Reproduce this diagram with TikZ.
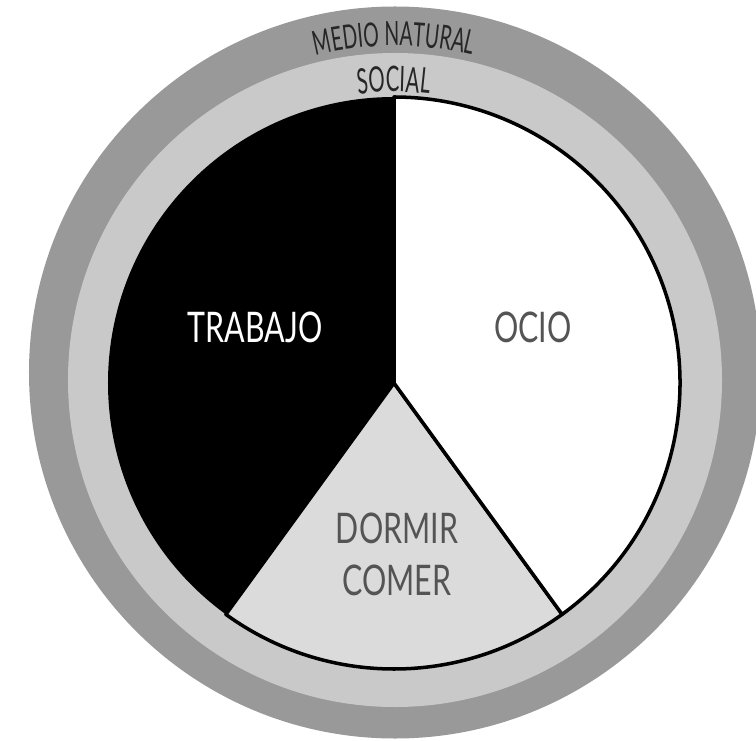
\documentclass[tikz,border=0pt]{standalone}
\usepackage{fontspec}
\usetikzlibrary{decorations.text}
\newfontfamily\labelfont[FakeStretch=0.72]{Lato}
\newfontfamily\ringfont[FakeStretch=0.58]{Lato}
\definecolor{ringdark}{gray}{0.60}
\definecolor{ringlight}{gray}{0.79}
\definecolor{sleepgray}{gray}{0.86}
\definecolor{labelgray}{gray}{0.33}
\tikzset{
  sector/.style={line width=2pt, draw=black, line join=round},
  biglabel/.style={font=\labelfont\fontsize{24}{26}\selectfont, inner sep=0pt},
  ringlabel/.style={decorate, decoration={text along path, text align=center,
    text color=black!85}}
}

\begin{document}
\begin{tikzpicture}[x=0.02cm, y=0.02cm]
  \useasboundingbox (-394,-357) rectangle (362,383);

  % rings
  \fill[ringdark] (1,10.5) circle[radius=366];
  \fill[ringlight] (1,3) circle[radius=327];

  % sectors
  \fill[black] (0,0) -- (90:286) arc[start angle=90, end angle=234, radius=286] -- cycle;
  \filldraw[sector, fill=sleepgray] (0,0) -- (234:286) arc[start angle=234, end angle=306, radius=286] -- cycle;
  \filldraw[sector, fill=white] (0,0) -- (306:286) arc[start angle=306, end angle=450, radius=286] -- cycle;

  % ring texts
  \path[ringlabel, decoration={text={|\ringfont\fontsize{19}{20}\selectfont|MEDIO NATURAL}}]
    (150:337) arc[start angle=150, end angle=30, radius=337];
  \path[ringlabel, decoration={text={|\ringfont\fontsize{20}{22}\selectfont|SOCIAL}}]
    (150:291) arc[start angle=150, end angle=30, radius=291];

  % sector labels
  \node[biglabel, text=white] (trabajo) at (-139,56) {TRABAJO};
  \node[biglabel, text=labelgray] (ocio) at (139,56) {OCIO};
  \node[biglabel, text=labelgray] (dormir) at (3,-145) {DORMIR};
  \node[biglabel, text=labelgray] (comer) at (3,-197) {COMER};
\end{tikzpicture}
\end{document}
